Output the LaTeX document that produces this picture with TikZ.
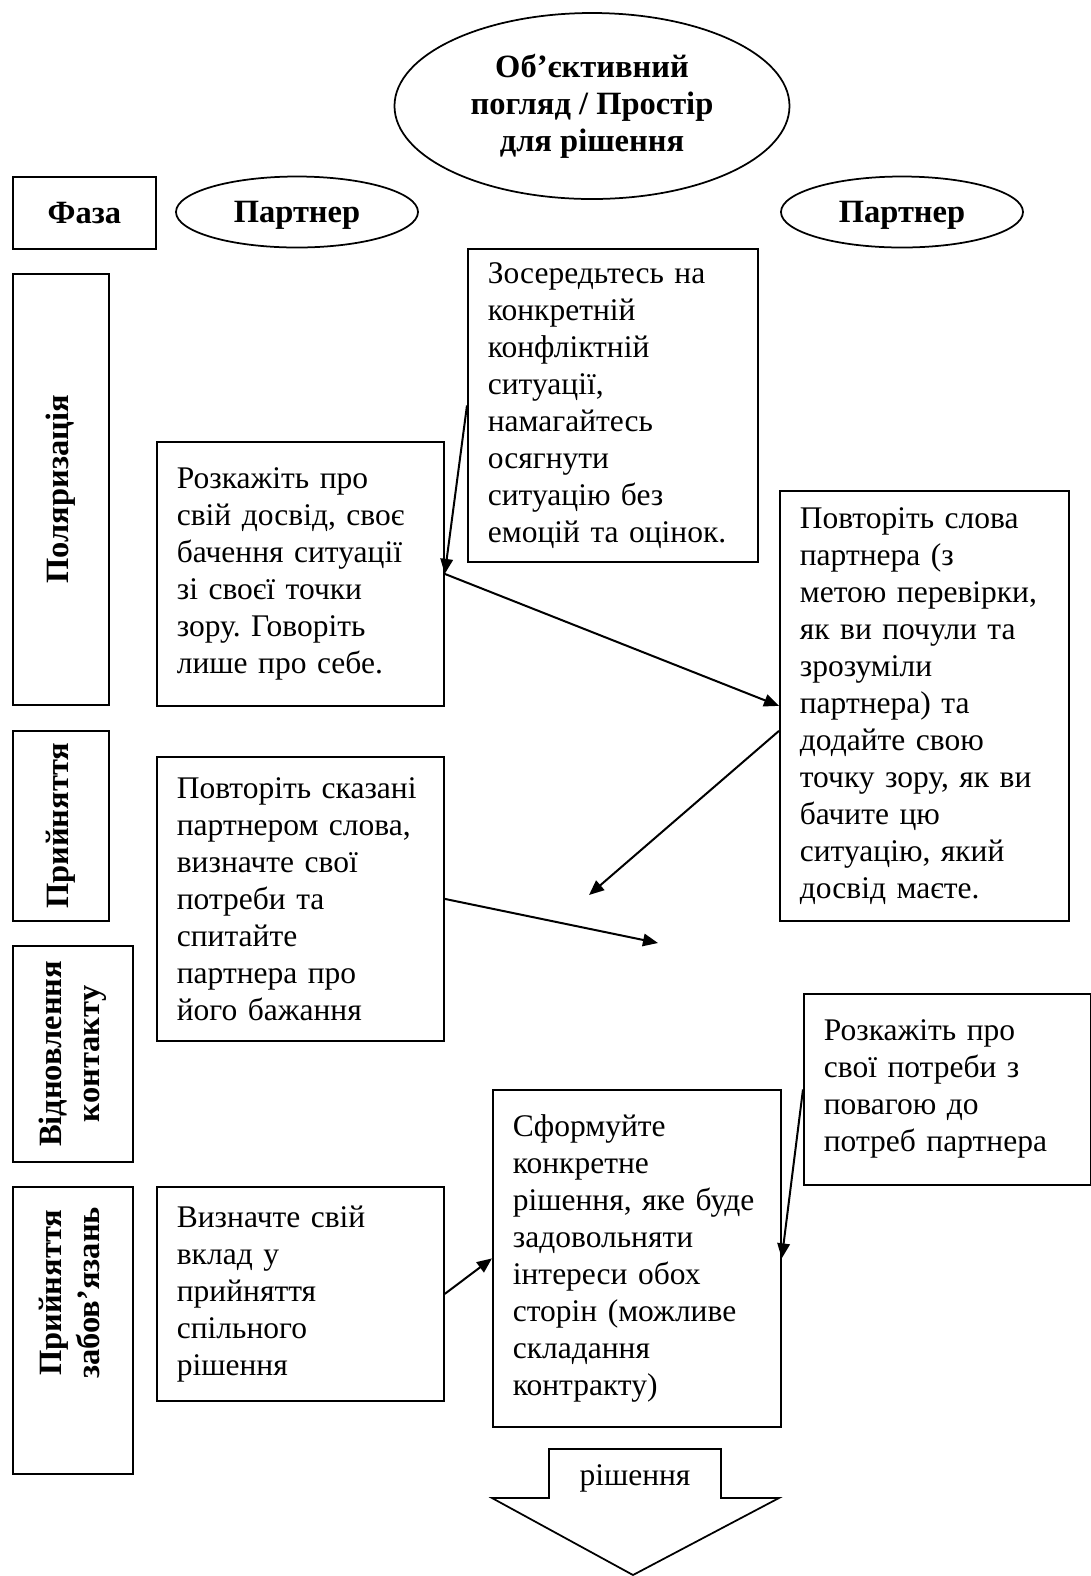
\documentclass[tikz,border=0pt]{standalone}
\usepackage{fontspec}
\usepackage{graphicx}
\setmainfont{Liberation Serif}
\usetikzlibrary{shapes.geometric,arrows.meta}
\frenchspacing

\begin{document}
\begin{tikzpicture}[x=0.4pt, y=-0.4pt,
    txtbox/.style={rectangle, draw, line width=0.7pt, anchor=north west, align=left, inner xsep=8pt, font=\fontsize{12.6}{14.8}\selectfont},
    phasebox/.style={rectangle, draw, line width=0.7pt, anchor=north west, align=center, inner sep=0pt, font=\bfseries\fontsize{13}{15.3}\selectfont},
    oval/.style={ellipse, draw, line width=0.7pt, inner sep=0pt, align=center, font=\bfseries\fontsize{13}{14.8}\selectfont},
    link/.style={-{Triangle[length=6pt,width=5pt]}, line width=0.8pt}]
    \useasboundingbox (0,0) rectangle (1091,1576);

    % Headings
    \node (view) [oval, minimum width=158pt, minimum height=74.4pt] at (592,106) {Об’єктивний\\ погляд / Простір\\ для рішення};
    \node (phase) [phasebox, minimum width=57.2pt, minimum height=28.8pt] at (12,176) {Фаза};
    \node (partnerL) [oval, text depth=0pt, minimum width=96.8pt, minimum height=28.4pt] at (297,212) {Партнер};
    \node (partnerR) [oval, text depth=0pt, minimum width=96.8pt, minimum height=28.4pt] at (902,212) {Партнер};

    % Phases
    \node (polar) [phasebox, minimum width=38.4pt, minimum height=172.4pt] at (12,273) {\rotatebox{90}{Поляризація}};
    \node (accept) [phasebox, minimum width=38.4pt, minimum height=76pt] at (12,730) {\rotatebox{90}{Прийняття}};
    \node (restore) [phasebox, minimum width=48pt, minimum height=86.4pt] at (12,945) {\rotatebox{90}{\begin{tabular}{@{}c@{}}Відновлення\\ контакту\end{tabular}}};
    \node (commit) [phasebox, minimum width=48pt, minimum height=114.8pt] at (12,1186) {\rotatebox{90}{\hspace{30pt}\begin{tabular}{@{}c@{}}Прийняття\\ забов’язань\end{tabular}}};

    % Steps
    \node (focus) [txtbox, text width=100pt, minimum height=125.2pt] at (467,248) {Зосередьтесь на\\ конкретній\\ конфліктній\\ ситуації,\\ намагайтесь\\ осягнути\\ ситуацію без\\ емоцій та оцінок.};
    \node (own) [txtbox, text width=98.8pt, minimum height=105.6pt] at (156,441) {Розкажіть про\\ свій досвід, своє\\ бачення ситуації\\ зі своєї точки\\ зору. Говоріть\\ лише про себе.};
    \node (mirror) [txtbox, text width=99.6pt, minimum height=172pt] at (779,490) {Повторіть слова\\ партнера (з\\ метою перевірки,\\ як ви почули та\\ зрозуміли\\ партнера) та\\ додайте свою\\ точку зору, як ви\\ бачите цю\\ ситуацію, який\\ досвід маєте.};
    \node (needs) [txtbox, text width=98.8pt, minimum height=113.6pt] at (156,756) {Повторіть сказані\\ партнером слова,\\ визначте свої\\ потреби та\\ спитайте\\ партнера про\\ його бажання};
    \node (respect) [txtbox, text width=98.8pt, minimum height=76.4pt] at (803,993) {Розкажіть про\\ свої потреби з\\ повагою до\\ потреб партнера};
    \node (solution) [txtbox, text width=99.2pt, minimum height=134.8pt] at (492,1089) {Сформуйте\\ конкретне\\ рішення, яке буде\\ задовольняти\\ інтереси обох\\ сторін (можливе\\ складання\\ контракту)};
    \node (contrib) [txtbox, text width=98.8pt, minimum height=85.6pt] at (156,1186) {Визначте свій\\ вклад у\\ прийняття\\ спільного\\ рішення};

    % Result
    \draw[line width=0.7pt] (549,1449) -- (721,1449) -- (721,1498) -- (779,1498) -- (633,1575) -- (492,1498) -- (549,1498) -- cycle;
    \node (result) [font=\fontsize{12.6}{14.8}\selectfont] at (635,1478) {рішення};

    % Arrows
    \coordinate (endA) at (589,895);
    \coordinate (endB) at (658,943);
    \draw[link] (focus.west) -- (own.east);
    \draw[link] (own.east) -- (mirror.west);
    \draw[link] ([yshift=-10pt]mirror.west) -- (endA);
    \draw[link] (needs.east) -- (endB);
    \draw[link] (contrib.east) -- (solution.west);
    \draw[link] (respect.west) -- (solution.east);
\end{tikzpicture}
\end{document}
